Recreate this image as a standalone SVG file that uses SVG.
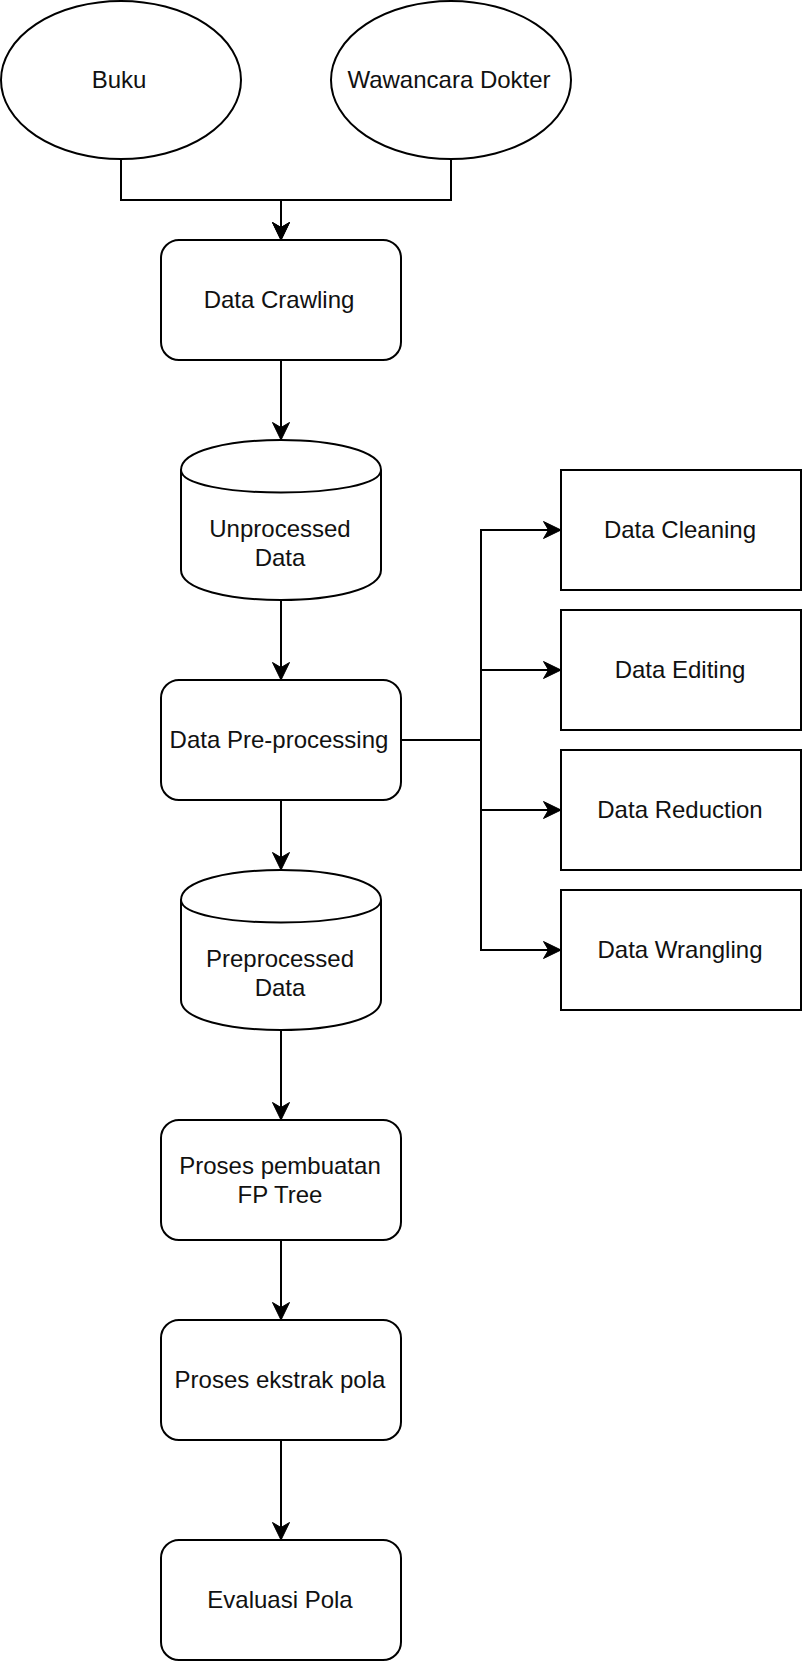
<svg xmlns="http://www.w3.org/2000/svg" width="802" height="1664" viewBox="0 0 802 1664">
<style>
.s{fill:#fff;stroke:#000;stroke-width:2}
.c{fill:none;stroke:#000;stroke-width:2}
.t{font-family:"Liberation Sans",Arial,sans-serif;font-size:24px;fill:#111;text-anchor:middle}
</style>
<defs>
<marker id="a" markerUnits="userSpaceOnUse" markerWidth="20" markerHeight="20" refX="18" refY="9" orient="auto" overflow="visible">
<path d="M0.5,0.5 L18,9 L0.5,17.5 L5.5,9 Z" fill="#000" stroke="#000" stroke-width="1" stroke-linejoin="miter"/>
</marker>
</defs>
<g id="connectors">
<path class="c" d="M121,160 V200 H281 V240" marker-end="url(#a)"/>
<path class="c" d="M451,160 V200 H281 V240" marker-end="url(#a)"/>
<path class="c" d="M281,360 V440" marker-end="url(#a)"/>
<path class="c" d="M281,600 V680" marker-end="url(#a)"/>
<path class="c" d="M281,800 V870" marker-end="url(#a)"/>
<path class="c" d="M281,1030 V1120" marker-end="url(#a)"/>
<path class="c" d="M281,1240 V1320" marker-end="url(#a)"/>
<path class="c" d="M281,1440 V1540" marker-end="url(#a)"/>
<path class="c" d="M401,740 H481 V530 H561" marker-end="url(#a)"/>
<path class="c" d="M401,740 H481 V670 H561" marker-end="url(#a)"/>
<path class="c" d="M401,740 H481 V810 H561" marker-end="url(#a)"/>
<path class="c" d="M401,740 H481 V950 H561" marker-end="url(#a)"/>
</g>
<g id="buku"><ellipse class="s" cx="121" cy="80" rx="120" ry="79"/><text class="t" x="119" y="88">Buku</text></g>
<g id="wawancara"><ellipse class="s" cx="451" cy="80" rx="120" ry="79"/><text class="t" x="449" y="88">Wawancara Dokter</text></g>
<g id="crawling"><rect class="s" x="161" y="240" width="240" height="120" rx="18"/><text class="t" x="279" y="308">Data Crawling</text></g>
<g id="unprocessed"><path class="s" d="M181,470 C181,430 381,430 381,470 L381,570 C381,610 181,610 181,570 Z"/><path class="c" d="M181,470 C181,500 381,500 381,470"/><text class="t" x="280" y="537">Unprocessed</text><text class="t" x="280" y="566">Data</text></g>
<g id="preprocessing"><rect class="s" x="161" y="680" width="240" height="120" rx="18"/><text class="t" x="279" y="748">Data Pre-processing</text></g>
<g id="preprocessed"><path class="s" d="M181,900 C181,860 381,860 381,900 L381,1000 C381,1040 181,1040 181,1000 Z"/><path class="c" d="M181,900 C181,930 381,930 381,900"/><text class="t" x="280" y="967">Preprocessed</text><text class="t" x="280" y="996">Data</text></g>
<g id="fptree"><rect class="s" x="161" y="1120" width="240" height="120" rx="18"/><text class="t" x="280" y="1174">Proses pembuatan</text><text class="t" x="280" y="1203">FP Tree</text></g>
<g id="ekstrak"><rect class="s" x="161" y="1320" width="240" height="120" rx="18"/><text class="t" x="280" y="1388">Proses ekstrak pola</text></g>
<g id="evaluasi"><rect class="s" x="161" y="1540" width="240" height="120" rx="18"/><text class="t" x="280" y="1608">Evaluasi Pola</text></g>
<g id="cleaning"><rect class="s" x="561" y="470" width="240" height="120"/><text class="t" x="680" y="538">Data Cleaning</text></g>
<g id="editing"><rect class="s" x="561" y="610" width="240" height="120"/><text class="t" x="680" y="678">Data Editing</text></g>
<g id="reduction"><rect class="s" x="561" y="750" width="240" height="120"/><text class="t" x="680" y="818">Data Reduction</text></g>
<g id="wrangling"><rect class="s" x="561" y="890" width="240" height="120"/><text class="t" x="680" y="958">Data Wrangling</text></g>
</svg>
